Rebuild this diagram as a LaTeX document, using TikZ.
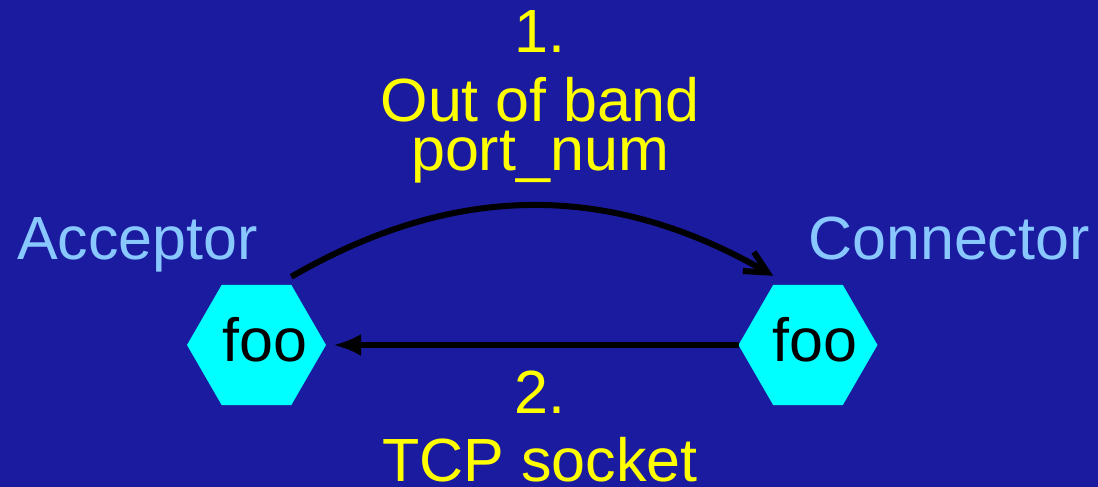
\documentclass[tikz,border=0pt]{standalone}
\usepackage{fontspec}
\setmainfont{Liberation Sans}
\usetikzlibrary{arrows.meta,shapes.geometric}
\definecolor{slidebg}{HTML}{1B1B9F}
\definecolor{hexcyan}{HTML}{00FFFF}
\definecolor{rolesky}{HTML}{88C8FF}
\definecolor{stepyel}{HTML}{FFFF00}
\tikzset{
  hex/.style={regular polygon, regular polygon sides=6, minimum size=69.5pt, inner sep=0pt, outer sep=0pt, fill=hexcyan},
  txt/.style={font=\fontsize{30.5}{24.5}\selectfont, inner sep=0pt, anchor=base},
  role/.style={txt, color=rolesky},
  stp/.style={txt, color=stepyel, align=center},
  arr/.style={-{Latex[length=14pt,width=11pt]}, line width=3pt, color=black},
  barb/.style={-{Straight Barb[length=11pt,width=11pt]}, line width=3pt, color=black},
}
\begin{document}
\begin{tikzpicture}[x=0.5pt, y=0.5pt]
  \fill[slidebg] (0,0) rectangle (1098,487);
  \useasboundingbox (0,0) rectangle (1098,487);
  % hexagons
  \node[hex] (acc) at (256.5,142) {};
  \node[hex] (con) at (808,142) {};
  \node[txt] (accfoo) at (265,125) {foo};
  \node[txt] (confoo) at (815,125) {foo};
  \node[role] (accname) at (137.5,227) {Acceptor};
  \node[role] (conname) at (949,227) {Connector};
  % steps (base = last line)
  \node[stp] (stepone) at (540,316) {1.\\[10pt]Out of band\\port\_num};
  \node[stp] (steptwo) at (540,5) {2.\\[9.5pt]TCP socket};
  \coordinate (outA) at ([yshift=4pt]acc.corner 1);
  \coordinate (inB) at ([yshift=4.5pt]con.corner 2);
  \draw[barb] (outA) to[bend left=30] (inB);
  \draw[arr, shorten >=3.5pt] (con) -- (acc);
\end{tikzpicture}
\end{document}
